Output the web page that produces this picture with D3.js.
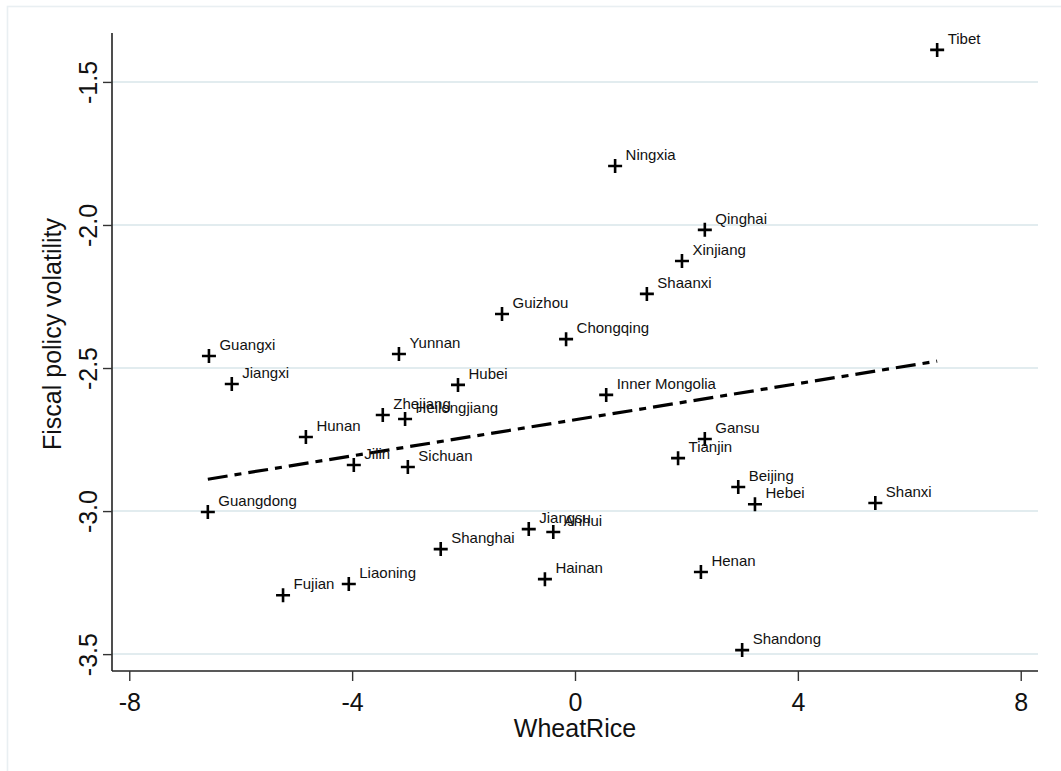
<!DOCTYPE html>
<html>
<head>
<meta charset="utf-8">
<script src="https://cdn.jsdelivr.net/npm/d3@7"></script>
<style>
  html, body { margin: 0; padding: 0; background: #fff; }
  svg { display: block; font-family: "Liberation Sans", Arial, sans-serif; }
</style>
</head>
<body>
<svg id="chart" width="1061" height="771"></svg>
<script>
// Provinces and their values
const provinces = ["Tibet", "Ningxia", "Qinghai", "Xinjiang", "Shaanxi", "Guizhou", "Chongqing",
  "Yunnan", "Guangxi", "Jiangxi", "Hubei", "Inner Mongolia", "Zhejiang", "Heilongjiang", "Hunan",
  "Gansu", "Tianjin", "Jilin", "Sichuan", "Beijing", "Hebei", "Shanxi", "Guangdong", "Jiangsu",
  "Anhui", "Shanghai", "Liaoning", "Hainan", "Henan", "Fujian", "Shandong"];
const wheatRice = [6.50, 0.72, 2.33, 1.92, 1.29, -1.31, -0.16,
  -3.16, -6.57, -6.16, -2.10, 0.56, -3.45, -3.05, -4.83,
  2.33, 1.85, -3.97, -3.00, 2.93, 3.23, 5.39, -6.59, -0.83,
  -0.39, -2.41, -4.06, -0.54, 2.26, -5.24, 3.00];
const volatility = [-1.388, -1.794, -2.017, -2.126, -2.241, -2.311, -2.399,
  -2.451, -2.458, -2.556, -2.559, -2.594, -2.664, -2.678, -2.741,
  -2.748, -2.815, -2.839, -2.846, -2.916, -2.976, -2.972, -3.003, -3.063,
  -3.073, -3.133, -3.255, -3.238, -3.213, -3.294, -3.486];

const xTicks = [-8, -4, 0, 4, 8];
const yTicks = [-1.5, -2.0, -2.5, -3.0, -3.5];
const xTitle = "WheatRice";
const yTitle = "Fiscal policy volatility";

const svg = d3.select("#chart");
const plotL = 112, plotR = 1038, plotT = 33, plotB = 671;

const x = d3.scaleLinear().domain([-8.31, 8.31]).range([plotL, plotR]);
const y = d3.scaleLinear().domain([-3.559, -1.329]).range([plotB, plotT]);

// tick text with a plain hyphen for negative numbers
const fmtX = d => String(d);
const fmtY = d => d.toFixed(1);

// outer frame
svg.append("rect")
  .attr("x", 7.5).attr("y", 6.5).attr("width", 1080).attr("height", 800)
  .attr("fill", "none").attr("stroke", "#e9eff2").attr("stroke-width", 1.6);

// horizontal grid
svg.append("g").selectAll("line").data(yTicks).join("line")
  .attr("x1", plotL).attr("x2", plotR)
  .attr("y1", d => y(d)).attr("y2", d => y(d))
  .attr("stroke", "#e2ecef").attr("stroke-width", 2);

// axes
const xAxis = svg.append("g").attr("transform", `translate(0,${plotB})`)
  .call(d3.axisBottom(x).tickValues(xTicks).tickSize(10).tickPadding(12)
    .tickFormat(fmtX).tickSizeOuter(0));
const yAxis = svg.append("g").attr("transform", `translate(${plotL},0)`)
  .call(d3.axisLeft(y).tickValues(yTicks).tickSize(9).tickPadding(6)
    .tickFormat(fmtY).tickSizeOuter(0));

[xAxis, yAxis].forEach(g => {
  g.select(".domain").attr("stroke", "#222").attr("stroke-width", 1.6);
  g.selectAll(".tick line").attr("stroke", "#333").attr("stroke-width", 1.4);
  g.selectAll("text").attr("fill", "#111").attr("font-size", 25)
    .attr("font-family", "Liberation Sans, Arial, sans-serif");
});
// axis lines run from corner to corner of the plot region
yAxis.select(".domain").attr("d", `M0,${plotB}V${plotT}`);
xAxis.select(".domain").attr("d", `M${plotL},0H${plotR}`);

// rotated y tick labels
yAxis.selectAll(".tick text")
  .attr("text-anchor", "middle")
  .attr("dy", 0)
  .attr("x", 0).attr("y", 0)
  .attr("transform", "translate(-15,0) rotate(-90)");

// axis titles
svg.append("text").attr("x", (plotL + plotR) / 2).attr("y", 737)
  .attr("text-anchor", "middle").attr("font-size", 25).attr("fill", "#111")
  .text(xTitle);
svg.append("text")
  .attr("transform", `translate(61,${(plotT + plotB) / 2 - 18}) rotate(-90)`)
  .attr("text-anchor", "middle").attr("font-size", 25).attr("fill", "#111")
  .text(yTitle);

// linear fit
const n = wheatRice.length;
const mx = d3.mean(wheatRice), my = d3.mean(volatility);
let sxy = 0, sxx = 0;
for (let i = 0; i < n; i++) {
  sxy += (wheatRice[i] - mx) * (volatility[i] - my);
  sxx += (wheatRice[i] - mx) ** 2;
}
const slope = sxy / sxx, intercept = my - slope * mx;
const [xmin, xmax] = d3.extent(wheatRice);
svg.append("path")
  .datum([xmin, xmax])
  .attr("d", d3.line().x(d => x(d)).y(d => y(intercept + slope * d)))
  .attr("fill", "none").attr("stroke", "#000").attr("stroke-width", 3.2)
  .attr("stroke-dasharray", "20,7,7,7");

// points and labels
const pts = provinces.map((p, i) => ({ name: p, vx: wheatRice[i], vy: volatility[i] }));
const g = svg.append("g");
const s = 7;
g.selectAll("path.mark").data(pts).join("path")
  .attr("class", "mark")
  .attr("d", d => `M${x(d.vx) - s},${y(d.vy)}H${x(d.vx) + s}M${x(d.vx)},${y(d.vy) - s}V${y(d.vy) + s}`)
  .attr("stroke", "#000").attr("stroke-width", 2.6).attr("fill", "none");
g.selectAll("text").data(pts).join("text")
  .attr("x", d => x(d.vx) + 10.5)
  .attr("y", d => y(d.vy) - 6)
  .attr("font-size", 15).attr("fill", "#111")
  .text(d => d.name);
</script>
</body>
</html>
